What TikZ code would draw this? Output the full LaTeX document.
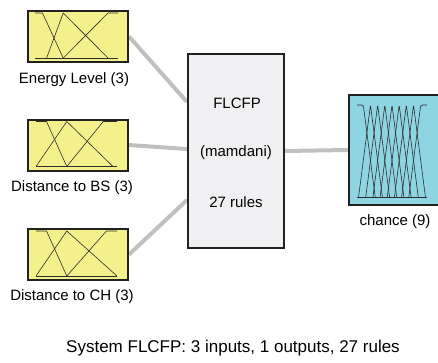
\documentclass[tikz,border=0pt]{standalone}
\usepackage{fontspec}
\setmainfont{Liberation Sans}
\usetikzlibrary{calc,backgrounds}
\definecolor{mfyellow}{RGB}{244,240,140}
\definecolor{mfcyan}{RGB}{142,213,226}
\definecolor{fisgray}{RGB}{240,240,242}
\definecolor{edgedark}{RGB}{35,32,32}
\definecolor{linkgray}{RGB}{192,192,194}
\definecolor{curvedark}{RGB}{45,45,45}
\begin{document}
\begin{tikzpicture}[x=1pt,y=-1pt,
  varbox/.style={draw=edgedark, line width=2pt, minimum width=100pt, minimum height=51pt, inner sep=0pt},
  inbox/.style={varbox, fill=mfyellow},
  outbox/.style={varbox, fill=mfcyan, minimum width=104pt, minimum height=110pt},
  fisbox/.style={draw=edgedark, line width=2pt, fill=fisgray, minimum width=96pt, minimum height=194pt, inner sep=0pt},
  link/.style={draw=linkgray, line width=4pt},
  lbl/.style={font=\fontsize{15}{18}\selectfont, inner sep=0pt},
  mf/.style={draw=curvedark, line width=0.6pt, line join=round},
]
\useasboundingbox (0,0) rectangle (438,362);
\clip (0,0) rectangle (438,362);

% input variables, FIS block and output variable
\node[inbox] (in1) at (78,36.5) {};
\node[inbox] (in2) at (78,145) {};
\node[inbox] (in3) at (78,254.5) {};
\node[fisbox] (fis) at (236,151) {};
\node[outbox] (out) at (401,150) {};

% connectors behind the blocks
\begin{scope}[on background layer]
  \draw[link] (in1.east) -- ($(fis.north west)!0.25!(fis.south west)$);
  \draw[link] (in2.east) -- ($(fis.north west)!0.49!(fis.south west)$);
  \draw[link] (in3.east) -- ($(fis.north west)!0.75!(fis.south west)$);
  \draw[link] (fis.east) -- (out.west);
\end{scope}

% membership functions of Energy Level
\begin{scope}[shift={(35,58)}, x=83pt, y=45pt]
  \draw[mf] (0,0) -- (1,0);
  \draw[mf] (0,1) -- (0.09,1) -- (0.34,0);
  \draw[mf] (0.14,0) -- (0.34,1) -- (0.88,0);
  \draw[mf] (0.34,0) -- (0.88,1) -- (1,1);
\end{scope}
% membership functions of Distance to BS
\begin{scope}[shift={(36,166.5)}, x=81pt, y=45pt]
  \draw[mf] (0,0) -- (1,0);
  \draw[mf] (0,1) -- (0.13,1) -- (0.38,0);
  \draw[mf] (0,0) -- (0.38,1) -- (0.95,0);
  \draw[mf] (0.38,0) -- (0.83,1) -- (1,1);
\end{scope}
% membership functions of Distance to CH
\begin{scope}[shift={(36,276)}, x=81pt, y=45pt]
  \draw[mf] (0,0) -- (1,0);
  \draw[mf] (0,1) -- (0.13,1) -- (0.38,0);
  \draw[mf] (0,0) -- (0.38,1) -- (1,0);
  \draw[mf] (0.38,0) -- (0.87,1) -- (1,1);
\end{scope}
% membership functions of chance
\begin{scope}[shift={(357,197)}, x=70pt, y=92pt]
  \draw[mf] (0,0) -- (1,0);
  \draw[mf, rounded corners=1.5pt] (0,1) -- (0.09,1) -- (0.26,0);
  \foreach \k in {1,...,7} {
    \pgfmathsetmacro\cpk{0.09+0.1025*\k}
    \draw[mf, rounded corners=1.2pt] (\cpk-0.17,0) -- (\cpk,1) -- (\cpk+0.17,0);
  }
  \draw[mf, rounded corners=1.5pt] (0.74,0) -- (0.91,1) -- (1,1);
\end{scope}

% texts
\node[lbl] (fisname)  at (237,103) {FLCFP};
\node[lbl] (fistype)  at (236,153) {(mamdani)};
\node[lbl] (fisrules) at (236,202) {27 rules};
\node[lbl] (lab1) at (74,80) {Energy Level (3)};
\node[lbl] (lab2) at (72,188) {Distance to BS (3)};
\node[lbl] (lab3) at (72,297) {Distance to CH (3)};
\node[lbl] (lab4) at (395,222) {chance (9)};
\node[lbl, font=\fontsize{17}{20}\selectfont] (summary) at (233,348) {System FLCFP: 3 inputs, 1 outputs, 27 rules};
\end{tikzpicture}
\end{document}
